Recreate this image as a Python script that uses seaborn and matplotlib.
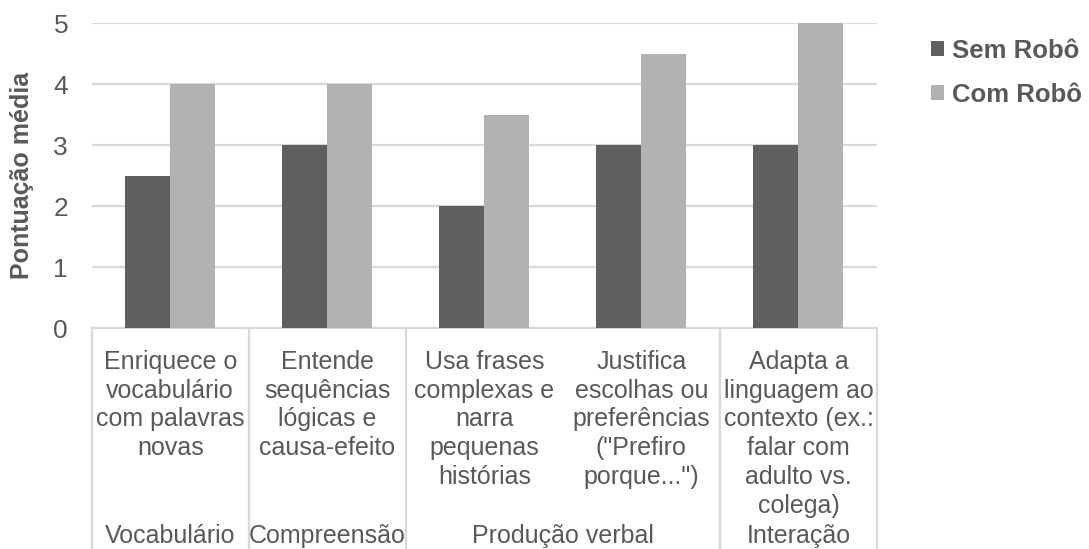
import numpy as np
import pandas as pd
import matplotlib
matplotlib.use("Agg")
import matplotlib.pyplot as plt
import matplotlib.transforms as mtransforms
import seaborn as sns

# ==========================================
# Dados
# ==========================================
categorias = [
    "Enriquece o\nvocabulário\ncom palavras\nnovas",
    "Entende\nsequências\nlógicas e\ncausa-efeito",
    "Usa frases\ncomplexas e\nnarra\npequenas\nhistórias",
    "Justifica\nescolhas ou\npreferências\n(\"Prefiro\nporque...\")",
    "Adapta a\nlinguagem ao\ncontexto (ex.:\nfalar com\nadulto vs.\ncolega)",
]
grupos = ["Vocabulário", "Compreensão", "Produção verbal", "Produção verbal", "Interação"]
series = ["Sem Robô", "Com Robô"]
sem_robo = [2.5, 3, 2, 3, 3]
com_robo = [4, 4, 3.5, 4.5, 5]
yticks = [0, 1, 2, 3, 4, 5]

CORES = ["#5f5f5f", "#b2b2b2"]
TEXTO = "#595959"
GRADE = "#d9d9d9"
FS = 18

df = pd.DataFrame({
    "categoria": categorias * 2,
    "serie": [series[0]] * len(categorias) + [series[1]] * len(categorias),
    "valor": sem_robo + com_robo,
})

sns.set_theme(style="white")
plt.rcParams["font.family"] = ["Liberation Sans", "DejaVu Sans"]

fig = plt.figure(figsize=(10.89, 5.49), dpi=100)
ax = fig.add_axes([0.0842, 0.402, 0.7211, 0.5556])

sns.barplot(data=df, x="categoria", y="valor", hue="serie", order=categorias,
            hue_order=series, palette=CORES, saturation=1, width=0.573,
            linewidth=0, ax=ax, zorder=3)

ax.set_xlim(-0.5, len(categorias) - 0.5)
ax.set_ylim(0, 5)
ax.set_yticks(yticks)
ax.set_yticklabels([str(t) for t in yticks], fontsize=FS + 1, color=TEXTO)
ax.tick_params(axis="y", length=0, pad=17)
ax.set_xticks([])
ax.set_xlabel("")
ax.set_ylabel("Pontuação média", fontsize=FS, fontweight="bold", color=TEXTO)
ax.yaxis.set_label_coords(-0.073, 0.5)

ax.grid(axis="y", color=GRADE, linewidth=1.6, zorder=0)
ax.set_axisbelow(True)
for lado in ["top", "right", "left"]:
    ax.spines[lado].set_visible(False)
ax.spines["bottom"].set_color(GRADE)
ax.spines["bottom"].set_linewidth(1.6)

# eixo de categorias em dois niveis
trans = mtransforms.blended_transform_factory(ax.transData, fig.transFigure)
y_eixo = ax.get_position().y0

for i, rotulo in enumerate(categorias):
    ax.text(i, 0.3625, rotulo, transform=trans, ha="center", va="top",
            fontsize=FS, color=TEXTO, linespacing=1.25)

# limites dos grupos
inicio = 0
divisores = [-0.5]
for i in range(1, len(grupos) + 1):
    if i == len(grupos) or grupos[i] != grupos[inicio]:
        centro = (inicio + i - 1) / 2
        ax.text(centro, 0.011, grupos[inicio], transform=trans, ha="center",
                va="baseline", fontsize=FS, color=TEXTO)
        divisores.append(i - 0.5)
        inicio = i

for xd in divisores:
    ax.plot([xd, xd], [y_eixo, 0], transform=trans, color=GRADE,
            linewidth=1.6, clip_on=False, zorder=1)

handles, labels = ax.get_legend_handles_labels()
leg = ax.legend(handles, labels, loc="upper left", bbox_to_anchor=(0.855, 0.929),
                bbox_transform=fig.transFigure, frameon=False,
                prop={"size": 18.5, "weight": "bold"}, handlelength=0.52,
                handleheight=0.52, handletextpad=0.3, labelspacing=0.78,
                borderpad=0, borderaxespad=0)
for h in leg.legend_handles:
    h.set_edgecolor("none")
for t in leg.get_texts():
    t.set_color(TEXTO)

fig.savefig("out.png", dpi=100)
